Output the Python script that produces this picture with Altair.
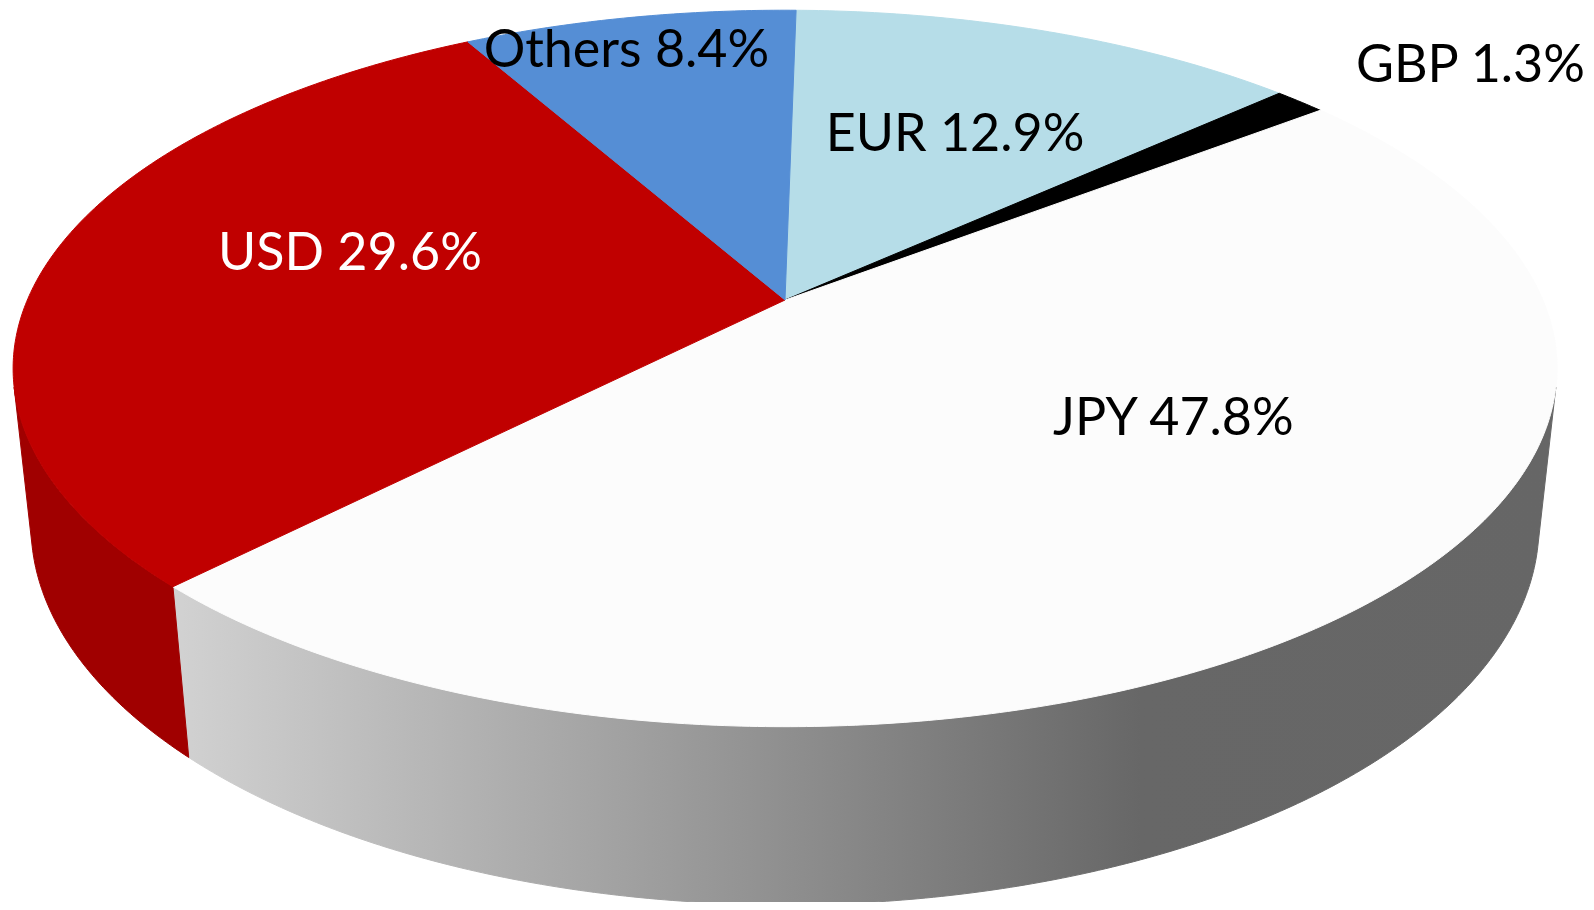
import numpy as np
import pandas as pd
import altair as alt

# ---- data ----
currencies = ["EUR", "GBP", "JPY", "USD", "Others"]
shares = [12.9, 1.3, 47.8, 29.6, 8.4]

# ---- styles ----
top_colors = ["#B6DDE8", "#000000", "#FCFCFC", "#C00000", "#558ED5"]
wall_colors = ["#8FBCC8", "#000000", "gradient", "#A00000", "#3C6FB0"]
label_colors = ["#000000", "#000000", "#000000", "#FFFFFF", "#000000"]
# label placement on the pie plane (angle clockwise from the far side, radius in pie radii)
label_theta = [25.2, 53.1, 124.0, 283.1, 343.8]
label_r = [0.58, 1.30, 0.58, 0.605, 0.87]

# ---- 3D view parameters ----
START_ANGLE = 1.0
ELEV = np.radians(27.1)
S, C = np.sin(ELEV), np.cos(ELEV)
DIST = 4.659
THICK = 0.234
F = 3530.0
CX, CY = 785.0, 300.0      # page position of the pie centre
W, H = 1578, 894
MARGIN = 8


def proj(X, Y, Z):
    D = DIST + Y * C - Z * S
    return X / D, (Y * S + Z * C) / D


def ring(a0, a1, z, n_per_deg=2):
    n = max(2, int(abs(a1 - a0) * n_per_deg) + 1)
    t = np.radians(np.linspace(a0, a1, n))
    return proj(np.sin(t), np.cos(t), np.full(n, z))


rows = []
cum = START_ANGLE + np.concatenate([[0], np.cumsum(shares)]) / sum(shares) * 360.0
vis = np.degrees(np.arccos(-1.0 / (DIST * C)))
vis0, vis1 = min(vis, 360 - vis), max(vis, 360 - vis)

for k, name in enumerate(currencies):
    a0, a1 = cum[k], cum[k + 1]
    # top face
    cu, cv = proj(0.0, 0.0, 0.0)
    u, v = ring(a0, a1, 0.0)
    us = np.concatenate([[cu], u, [cu]])
    vs = np.concatenate([[cv], v, [cv]])
    for i, (a, b) in enumerate(zip(us, vs)):
        rows.append({"key": f"top_{name}", "u": a, "v": b, "i": i})
    # visible side wall
    w0, w1 = max(a0, vis0), min(a1, vis1)
    if w1 > w0:
        ut, vt = ring(w0, w1, 0.0)
        ub, vb = ring(w1, w0, -THICK)
        us = np.concatenate([ut, ub, ut[:1]])
        vs = np.concatenate([vt, vb, vt[:1]])
        for i, (a, b) in enumerate(zip(us, vs)):
            rows.append({"key": f"wall_{name}", "u": a, "v": b, "i": i})

poly = pd.DataFrame(rows)

lab_rows = []
for name, sh, th, r, col in zip(currencies, shares, label_theta, label_r, label_colors):
    t = np.radians(th)
    u, v = proj(r * np.sin(t), r * np.cos(t), 0.0)
    lab_rows.append({"text": f"{name} {sh:.1f}%", "u": u, "v": v, "tc": col})
labels = pd.DataFrame(lab_rows)

xdom = [(MARGIN - CX) / F, (MARGIN + W - CX) / F]
ydom = [(CY - MARGIN - H) / F, (CY - MARGIN) / F]
xs = alt.X("u:Q", scale=alt.Scale(domain=xdom, nice=False, zero=False), axis=None)
ys = alt.Y("v:Q", scale=alt.Scale(domain=ydom, nice=False, zero=False), axis=None)

gray_grad = alt.Gradient(
    gradient="linear",
    stops=[
        alt.GradientStop(offset=0.0, color="#D2D2D2"),
        alt.GradientStop(offset=0.32, color="#A2A2A2"),
        alt.GradientStop(offset=0.70, color="#676767"),
        alt.GradientStop(offset=1.0, color="#666666"),
    ],
    x1=0, x2=1, y1=0, y2=0,
)

base = alt.Chart(poly)
layers = []
present = set(poly["key"])
for name, wc in zip(currencies, wall_colors):
    key = f"wall_{name}"
    if key not in present:
        continue
    if wc == "gradient":
        mk = base.mark_line(fill=gray_grad, stroke=gray_grad, strokeWidth=1, filled=True)
    else:
        mk = base.mark_line(fill=wc, stroke=wc, strokeWidth=1, filled=True)
    layers.append(mk.transform_filter(alt.datum.key == key).encode(x=xs, y=ys, order="i:Q"))
for name, tc in zip(currencies, top_colors):
    key = f"top_{name}"
    mk = base.mark_line(fill=tc, stroke=tc, strokeWidth=1, filled=True)
    layers.append(mk.transform_filter(alt.datum.key == key).encode(x=xs, y=ys, order="i:Q"))

text = alt.Chart(labels).mark_text(
    font="Lato", fontSize=52, align="center", baseline="middle"
).encode(x=xs, y=ys, text="text:N", color=alt.Color("tc:N", scale=None))
layers.append(text)

chart = alt.layer(*layers).properties(
    width=W, height=H, padding=0, autosize=alt.AutoSizeParams(type="none")
).configure_view(stroke=None)

chart.save("out.html", embed_options={"renderer": "svg", "actions": False})
